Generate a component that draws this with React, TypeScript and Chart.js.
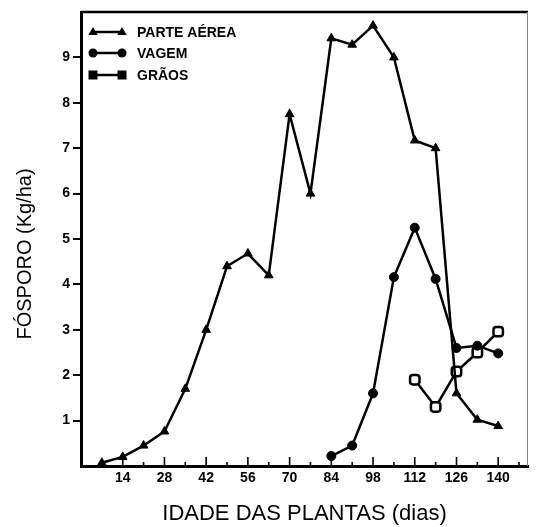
import React, { useEffect, useRef } from "react";
import { Chart, registerables } from "chart.js";

Chart.register(...registerables);

// Idade das plantas (dias) e fósforo acumulado (kg/ha)
const DIAS_PARTE_AEREA = [7, 14, 21, 28, 35, 42, 49, 56, 63, 70, 77, 84, 91, 98, 105, 112, 119, 126, 133, 140];
const PARTE_AEREA = [0.07, 0.2, 0.45, 0.76, 1.7, 3.0, 4.4, 4.68, 4.2, 7.75, 6.0, 9.42, 9.28, 9.7, 9.0, 7.17, 7.0, 1.6, 1.02, 0.88];

const DIAS_VAGEM = [84, 91, 98, 105, 112, 119, 126, 133, 140];
const VAGEM = [0.22, 0.45, 1.6, 4.16, 5.25, 4.12, 2.6, 2.65, 2.48];

const DIAS_GRAOS = [112, 119, 126, 133, 140];
const GRAOS = [1.9, 1.3, 2.08, 2.5, 2.96];

const X_TICKS = [14, 28, 42, 56, 70, 84, 98, 112, 126, 140];
const X_MARKS = [7, 14, 21, 28, 35, 42, 49, 56, 63, 70, 77, 84, 91, 98, 105, 112, 119, 126, 133, 140, 147];
const Y_LABELS = [1, 2, 3, 4, 5, 6, 7, 8, 9];

const LEGEND = ["PARTE AÉREA", "VAGEM", "GRÃOS"];
const X_TITLE = "IDADE DAS PLANTAS (dias)";
const Y_TITLE = "FÓSPORO (Kg/ha)";

const FONT = "'Liberation Sans', Arial, sans-serif";

function toPoints(xs: number[], ys: number[]) {
  return xs.map((x, i) => ({ x, y: ys[i] }));
}

function marker(ctx: CanvasRenderingContext2D, kind: string, x: number, y: number) {
  ctx.beginPath();
  if (kind === "triangle") {
    const r = 5;
    ctx.moveTo(x, y - r);
    ctx.lineTo(x + r * 0.95, y + r * 0.6);
    ctx.lineTo(x - r * 0.95, y + r * 0.6);
    ctx.closePath();
    ctx.fill();
  } else if (kind === "circle") {
    ctx.arc(x, y, 4.5, 0, Math.PI * 2);
    ctx.fill();
  } else {
    ctx.rect(x - 4.5, y - 4.5, 9, 9);
    ctx.fill();
  }
}

const framePlugin = {
  id: "frame",
  beforeDatasetsDraw(chart: any) {
    const { ctx, chartArea, scales } = chart;
    const xs = scales.x;
    ctx.save();
    ctx.strokeStyle = "#000";
    // top frame line
    ctx.lineWidth = 2.5;
    ctx.beginPath();
    ctx.moveTo(chartArea.left, chartArea.top);
    ctx.lineTo(chartArea.right, chartArea.top);
    ctx.stroke();
    // thin right frame line
    ctx.strokeStyle = "#8a8a8a";
    ctx.lineWidth = 1;
    ctx.beginPath();
    ctx.moveTo(chartArea.right - 0.5, chartArea.top);
    ctx.lineTo(chartArea.right - 0.5, chartArea.bottom);
    ctx.stroke();
    // inward tick marks on the day axis
    ctx.strokeStyle = "#000";
    ctx.lineWidth = 1.6;
    for (const d of X_MARKS) {
      const px = xs.getPixelForValue(d);
      const len = d % 14 === 0 ? 9 : 4;
      ctx.beginPath();
      ctx.moveTo(px, chartArea.bottom);
      ctx.lineTo(px, chartArea.bottom - len);
      ctx.stroke();
    }
    ctx.restore();
  },
  afterDraw(chart: any) {
    const { ctx, chartArea } = chart;
    ctx.save();
    // legend inside the plot
    const kinds = ["triangle", "circle", "square"];
    const rows = [32, 53, 75];
    ctx.fillStyle = "#000";
    ctx.strokeStyle = "#000";
    ctx.font = `bold 14px ${FONT}`;
    ctx.textAlign = "left";
    ctx.textBaseline = "middle";
    LEGEND.forEach((label, i) => {
      const y = rows[i];
      ctx.lineWidth = 2.5;
      ctx.beginPath();
      ctx.moveTo(93, y);
      ctx.lineTo(122, y);
      ctx.stroke();
      marker(ctx, kinds[i], 93, y);
      marker(ctx, kinds[i], 122, y);
      ctx.fillText(label, 137, y + 1);
    });
    // vertical axis title
    ctx.font = `20px ${FONT}`;
    ctx.textAlign = "center";
    ctx.translate(25, 254);
    ctx.rotate(-Math.PI / 2);
    ctx.fillText(Y_TITLE, 0, 0);
    ctx.restore();
  },
};

export default function App() {
  const canvasRef = useRef<HTMLCanvasElement | null>(null);

  useEffect(() => {
    if (!canvasRef.current) return;
    Chart.defaults.font.family = FONT;
    Chart.defaults.color = "#000";

    const line = {
      borderColor: "#000",
      borderWidth: 2.5,
      tension: 0,
      fill: false,
    };

    const chart = new Chart(canvasRef.current, {
      type: "line",
      data: {
        datasets: [
          {
            ...line,
            label: LEGEND[0],
            data: toPoints(DIAS_PARTE_AEREA, PARTE_AEREA),
            pointStyle: "triangle",
            pointRadius: 5,
            pointBackgroundColor: "#000",
            pointBorderColor: "#000",
            pointBorderWidth: 1,
          },
          {
            ...line,
            label: LEGEND[1],
            data: toPoints(DIAS_VAGEM, VAGEM),
            pointStyle: "circle",
            pointRadius: 4.5,
            pointBackgroundColor: "#000",
            pointBorderColor: "#000",
            pointBorderWidth: 1,
          },
          {
            ...line,
            label: LEGEND[2],
            data: toPoints(DIAS_GRAOS, GRAOS),
            pointStyle: "rectRounded",
            pointRadius: 5.5,
            pointBackgroundColor: "#fff",
            pointBorderColor: "#000",
            pointBorderWidth: 2.5,
          },
        ],
      },
      options: {
        responsive: false,
        animation: false,
        devicePixelRatio: 1,
        layout: { padding: { top: 12, right: 1, left: 0, bottom: 0 } },
        plugins: {
          legend: { display: false },
          tooltip: { enabled: false },
        },
        scales: {
          x: {
            type: "linear",
            min: 0,
            max: 150,
            afterFit(scale: any) {
              scale.height = 61;
            },
            afterBuildTicks(scale: any) {
              scale.ticks = X_TICKS.map((v) => ({ value: v }));
            },
            grid: { display: false, drawTicks: false },
            border: { display: true, color: "#000", width: 3 },
            ticks: {
              padding: 4,
              autoSkip: false,
              maxRotation: 0,
              font: { size: 14, weight: "bold", family: FONT },
              color: "#000",
            },
            title: {
              display: true,
              text: X_TITLE,
              font: { size: 22, family: FONT },
              color: "#000",
              padding: { top: 0, bottom: 0 },
            },
          },
          y: {
            type: "linear",
            min: 0,
            max: 10,
            afterFit(scale: any) {
              scale.width = 81;
            },
            afterBuildTicks(scale: any) {
              scale.ticks = Y_LABELS.map((v) => ({ value: v }));
            },
            grid: {
              display: true,
              drawOnChartArea: false,
              drawTicks: true,
              tickLength: 8,
              lineWidth: 2,
              color: "#000",
            },
            border: { display: true, color: "#000", width: 3 },
            ticks: {
              padding: 3,
              font: { size: 14, weight: "bold", family: FONT },
              color: "#000",
            },
          },
        },
      },
      plugins: [framePlugin],
    });

    return () => chart.destroy();
  }, []);

  return (
    <div style={{ position: "fixed", left: 0, top: 0, width: 536, height: 527, background: "#fff" }}>
      <canvas ref={canvasRef} width={536} height={527} />
    </div>
  );
}
